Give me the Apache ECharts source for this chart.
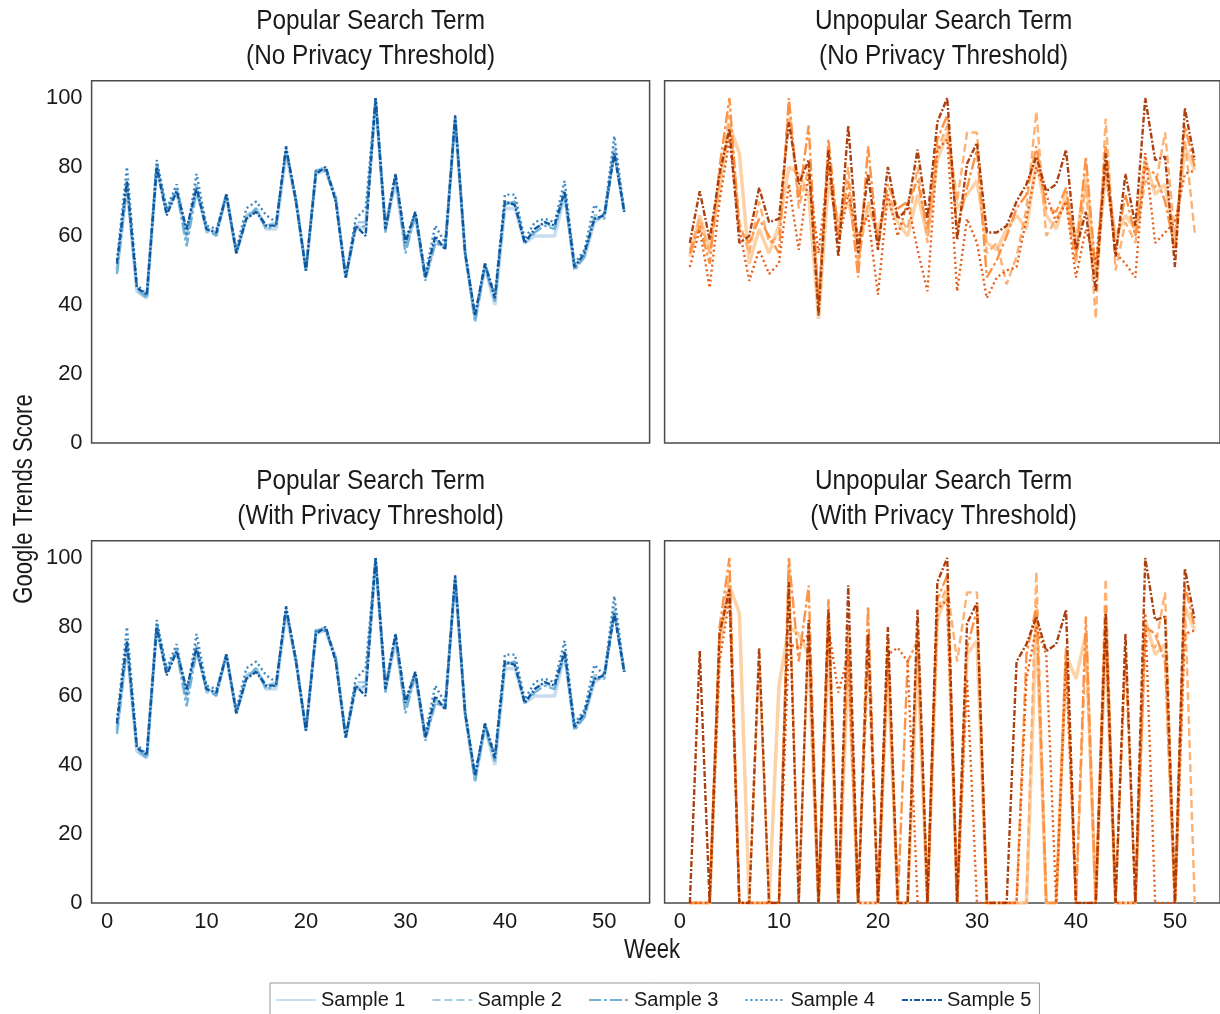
<!DOCTYPE html>
<html><head><meta charset="utf-8">
<script src="https://cdn.jsdelivr.net/npm/echarts@6/dist/echarts.min.js"></script>
<style>html,body{margin:0;padding:0;background:#fff;overflow:hidden}#c{width:1220px;height:1014px;}</style>
</head><body><div id="c"></div>
<script>
const weeks = [1,2,3,4,5,6,7,8,9,10,11,12,13,14,15,16,17,18,19,20,21,22,23,24,25,26,27,28,29,30,31,32,33,34,35,36,37,38,39,40,41,42,43,44,45,46,47,48,49,50,51,52];
const sampleNames = ['Sample 1','Sample 2','Sample 3','Sample 4','Sample 5'];
const yTicks = [0,20,40,60,80,100];
const xTicks = [0,10,20,30,40,50];

// Popular search term (same in both panels)
const popS1 = [50,75,44,42,80,67,73,61,74,62,61,72,55,65,68,62,62,84,70,50,78,79,71,48,63,62,99,62,76,57,66,48,58,57,94,55,36,51,40,68,68,58,60,60,60,72,51,54,64,66,85,67];
const popS2 = [51,75,44,42,79,67,74,59,75,61,61,71,55,66,68,63,64,84,70,50,79,80,71,48,64,64,99,62,76,57,66,48,59,57,94,55,36,52,42,70,69,58,62,64,62,73,51,55,66,66,86,67];
const popS3 = [49,74,45,42,81,67,73,57,73,62,60,72,55,65,68,62,63,85,70,50,79,79,70,48,62,63,100,61,77,55,66,47,58,57,94,55,35,51,41,69,70,58,61,63,62,72,50,54,65,65,84,67];
const popS4 = [53,80,46,43,82,68,75,60,78,63,62,72,56,68,70,66,64,85,71,50,79,79,71,48,65,68,100,63,78,59,67,49,63,58,94,56,37,52,43,72,72,59,64,65,64,76,52,56,69,66,89,67];
const popS5 = [52,76,45,43,80,66,73,62,74,62,61,72,55,65,67,63,63,86,70,50,78,80,70,48,63,60,100,62,78,58,67,48,60,56,95,55,37,52,42,70,69,58,62,64,63,73,51,55,65,66,84,67];

// Unpopular search term, no privacy threshold
const unpNoS1 = [54,66,56,74,92,84,52,62,55,63,80,78,72,36,76,64,70,58,68,62,70,64,60,72,60,82,90,68,72,76,58,56,62,66,62,82,66,62,72,58,78,48,78,60,66,62,82,72,75,58,86,79];
const unpNoS2 = [56,65,55,75,95,64,55,70,58,60,98,68,80,42,82,62,80,52,70,60,72,66,62,80,58,85,92,70,90,90,55,58,46,54,68,96,60,65,70,52,75,36,94,50,64,58,76,74,90,60,88,61];
const unpNoS3 = [55,63,52,80,100,62,58,65,60,55,100,70,92,40,88,60,76,48,86,57,75,68,70,76,62,88,95,62,74,85,48,53,60,68,72,86,68,67,74,54,83,49,86,56,72,60,80,78,70,56,92,80];
const unpNoS4 = [51,62,45,70,88,62,47,56,49,52,75,56,78,55,80,58,72,60,66,43,72,60,70,56,44,85,88,44,65,58,42,48,50,51,65,80,72,64,70,48,62,52,80,55,52,48,84,58,61,64,78,79];
const unpNoS5 = [58,73,59,78,91,58,60,74,64,65,93,75,82,37,85,54,92,55,78,56,80,65,68,85,65,93,100,59,81,87,61,61,63,70,75,83,73,75,85,56,67,44,84,54,78,63,100,82,83,51,97,82];

// Unpopular search term, with privacy threshold
const unpThS1 = [0,0,0,74,92,84,0,0,0,63,80,78,72,0,76,0,70,0,0,0,70,0,0,72,0,82,90,0,72,76,0,0,0,0,0,82,0,0,72,65,78,0,78,0,0,0,82,72,75,0,86,79];
const unpThS2 = [0,0,0,75,95,0,0,70,0,0,98,0,80,0,82,0,80,0,70,0,72,0,0,80,0,85,92,70,90,90,0,0,0,0,0,96,0,0,70,0,75,0,94,0,0,0,76,74,90,0,88,0];
const unpThS3 = [0,0,0,80,100,0,0,0,0,0,100,70,92,0,88,0,76,0,86,0,75,0,70,76,0,88,95,0,74,85,0,0,0,0,72,86,0,0,74,0,83,0,86,0,72,0,80,78,70,0,92,80];
const unpThS4 = [0,0,0,70,88,0,0,0,0,0,75,74,78,0,80,61,72,0,0,0,72,74,70,0,0,85,88,0,65,0,0,0,0,0,65,80,72,0,70,0,0,0,80,0,0,0,84,0,0,0,78,79];
const unpThS5 = [0,73,0,78,91,0,0,74,0,0,93,0,82,0,85,0,92,0,78,0,80,0,0,85,0,93,100,0,81,87,0,0,0,70,75,83,73,75,85,0,0,0,84,0,78,0,100,82,83,0,97,82];

const blues = ['#c6dbef','#9ecae1','#6baed6','#3182bd','#08519c'];
const oranges = ['#fdd0a2','#fdae6b','#fd8d3c','#e6550d','#a63603'];
const dashes = ['solid',[8,4],[12,3,3,3],[2,3],[6,2,2,2]];
const widths = [3.5,2.4,2.4,2.4,2.4];

const FONT = "'Liberation Sans',Arial,sans-serif";
const TXT = '#1a1a1a';

const panels = [
  {t1:'Popular Search Term', t2:'(No Privacy Threshold)', left:91.6, top:80.75, data:[popS1,popS2,popS3,popS4,popS5], colors:blues, yl:true, xl:false},
  {t1:'Unpopular Search Term', t2:'(No Privacy Threshold)', left:664.6, top:80.75, data:[unpNoS1,unpNoS2,unpNoS3,unpNoS4,unpNoS5], colors:oranges, yl:false, xl:false},
  {t1:'Popular Search Term', t2:'(With Privacy Threshold)', left:91.6, top:540.75, data:[popS1,popS2,popS3,popS4,popS5], colors:blues, yl:true, xl:true},
  {t1:'Unpopular Search Term', t2:'(With Privacy Threshold)', left:664.6, top:540.75, data:[unpThS1,unpThS2,unpThS3,unpThS4,unpThS5], colors:oranges, yl:false, xl:true}
];
const GW = 558, GH = 362.25;

function txt(s, x, y, size, sx, rot){
  return {type:'text', x:x, y:y, rotation:rot||0, scaleX:sx, scaleY:1, silent:true,
    style:{text:s, fontSize:size, fontFamily:FONT, fill:TXT, textAlign:'center', textVerticalAlign:'middle'}};
}

const graphics = [];
panels.forEach(p=>{
  const cx = p.left + GW/2;
  graphics.push(txt(p.t1, cx, p.top-59, 28, 0.87));
  graphics.push(txt(p.t2, cx, p.top-24, 28, 0.87));
});
graphics.push(txt('Google Trends Score', 25, 499, 27, 0.82, Math.PI/2));
graphics.push(txt('Week', 652, 951, 27, 0.82));

const option = {
  animation:false,
  backgroundColor:'#fff',
  textStyle:{fontFamily:FONT},
  grid: panels.map(p=>({left:p.left, top:p.top, width:GW, height:GH, show:true, borderColor:'#4a4a4a', borderWidth:1.5, backgroundColor:'transparent', containLabel:false})),
  xAxis: panels.map((p,i)=>({
    type:'value', gridIndex:i, min:-1.55, max:54.55, splitNumber:6,
    axisLine:{show:false}, axisTick:{show:false}, splitLine:{show:false},
    axisLabel:{show:p.xl, showMinLabel:false, showMaxLabel:false, margin:8, fontSize:22, color:TXT, fontFamily:FONT,
      formatter:v=> xTicks.indexOf(v)>=0 ? String(v) : ''}
  })),
  yAxis: panels.map((p,i)=>({
    type:'value', gridIndex:i, min:0, max:105, interval:20,
    axisLine:{show:false}, axisTick:{show:false}, splitLine:{show:false},
    axisLabel:{show:p.yl, showMaxLabel:false, margin:9, fontSize:22, color:TXT, fontFamily:FONT,
      formatter:v=> yTicks.indexOf(v)>=0 ? String(v) : ''}
  })),
  legend:{
    data:sampleNames, left:270, top:983, itemWidth:40, itemHeight:14, itemGap:26,
    padding:[7,8,8,5], borderColor:'#999', borderWidth:1, backgroundColor:'#fff',
    itemStyle:{opacity:0},
    textStyle:{fontSize:20, color:TXT, fontFamily:FONT}, selectedMode:false
  },
  graphic: graphics,
  series:[]
};

panels.forEach((p,pi)=>{
  p.data.forEach((arr,si)=>{
    option.series.push({
      type:'line', name: p.colors===blues ? sampleNames[si] : ('Unpopular '+sampleNames[si]),
      xAxisIndex:pi, yAxisIndex:pi, symbol:'none', showSymbol:false,
      data: weeks.map((w,k)=>[w, arr[k]]),
      lineStyle:{color:p.colors[si], width:widths[si], type:dashes[si], opacity:0.95},
      itemStyle:{color:p.colors[si]},
      z: 2+si
    });
  });
});

const chart = echarts.init(document.getElementById('c'), null, {renderer:'canvas'});
chart.setOption(option);
</script>
</body></html>
